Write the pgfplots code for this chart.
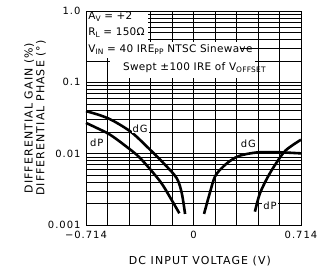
\documentclass[border=0pt]{standalone}
\usepackage{fontspec}
\setmainfont{DejaVu Sans}[LetterSpace=10]
\newfontfamily\boxfont{DejaVu Sans}[LetterSpace=3]
\usepackage{pgfplots}
\pgfplotsset{compat=1.18}
\newcommand\sub[1]{\raisebox{-0.35ex}{\fontsize{7.5}{8}\selectfont #1}}
\begin{document}
\begin{tikzpicture}
\useasboundingbox (0,0) rectangle (319bp,279bp);
\begin{axis}[
  at={(86bp,54bp)}, anchor=south west,
  width=215bp, height=214bp, scale only axis,
  ymode=log, ymin=0.001, ymax=1, xmin=-0.714, xmax=0.714,
  ytick={0.001,0.01,0.1,1}, yticklabels={0.001,0.01,0.1,1.0},
  minor ytick={0.002,0.003,0.004,0.005,0.006,0.007,0.008,0.009,
               0.02,0.03,0.04,0.05,0.06,0.07,0.08,0.09,
               0.2,0.3,0.4,0.5,0.6,0.7,0.8,0.9},
  xtick={-0.714,0,0.714}, xticklabels={−0.714,0,0.714},
  minor xtick={-0.5712,-0.4284,-0.2856,-0.1428,0.1428,0.2856,0.4284,0.5712},
  grid=both,
  major grid style={black, line width=0.5pt},
  minor grid style={black, line width=0.45pt},
  axis line style={line width=1pt},
  major tick length=0pt, minor tick length=0pt,
  /pgf/number format/assume math mode=true,
  ticklabel style={font=\fontsize{10}{12}\selectfont},
  yticklabel style={xshift=-2bp},
  xticklabel style={yshift=-3bp},
  xlabel={DC INPUT VOLTAGE (V)},
  xlabel style={font=\fontsize{11}{13}\selectfont, at={(rel axis cs:0.53,-0.168)}, anchor=center},
  ylabel={DIFFERENTIAL GAIN (\%)\\DIFFERENTIAL PHASE (°)},
  ylabel style={font=\fontsize{11}{12}\selectfont, align=center, at={(rel axis cs:-0.237,0.5)}, anchor=center},
  clip=false,
]
% curves
\addplot[black, line width=2.6pt, smooth] coordinates {
  (-0.714,0.0395) (-0.62,0.0345) (-0.535,0.029) (-0.41,0.0198) (-0.289,0.0114)
  (-0.2,0.0074) (-0.112,0.00455) (-0.078,0.0028) (-0.056,0.00143)};
\addplot[black, line width=2.6pt, smooth] coordinates {
  (-0.714,0.027) (-0.64,0.0228) (-0.555,0.0185) (-0.455,0.013) (-0.355,0.0087)
  (-0.222,0.0041) (-0.156,0.00245) (-0.094,0.00146)};
\addplot[black, line width=2.6pt, smooth] coordinates {
  (0.070,0.00143) (0.105,0.00265) (0.143,0.0048) (0.198,0.0066) (0.25,0.0081)
  (0.309,0.0094) (0.42,0.0104) (0.55,0.0105) (0.714,0.0101)};
\addplot[black, line width=2.6pt, smooth] coordinates {
  (0.408,0.00154) (0.442,0.0028) (0.508,0.00535) (0.596,0.0102) (0.65,0.0128) (0.714,0.0157)};
% curve labels
\node[fill=white, inner sep=1pt, font=\fontsize{10}{12}\selectfont] at (axis cs:-0.355,0.0225) {dG};
\node[fill=white, inner sep=1pt, font=\fontsize{10}{12}\selectfont] at (axis cs:-0.643,0.014) {dP};
\node[fill=white, inner sep=1pt, font=\fontsize{10}{12}\selectfont] at (axis cs:0.364,0.0138) {dG};
\node[fill=white, inner sep=1pt, font=\fontsize{10}{12}\selectfont] at (axis cs:0.508,0.00185) {dP};
% annotation box
\fill[white] (rel axis cs:0.005,0.995) rectangle (rel axis cs:0.288,0.855);
\fill[white] (rel axis cs:0.005,0.855) rectangle (rel axis cs:0.716,0.780);
\fill[white] (rel axis cs:0.112,0.781) rectangle (rel axis cs:0.786,0.687);
\node[anchor=west, inner sep=0pt, font=\boxfont\fontsize{10.5}{12}\selectfont] at (rel axis cs:0.01,0.972) {A\sub{V} = +2};
\node[anchor=west, inner sep=0pt, font=\boxfont\fontsize{10.5}{12}\selectfont] at (rel axis cs:0.01,0.897) {R\sub{L} = 150Ω};
\node[anchor=west, inner sep=0pt, font=\boxfont\fontsize{10.5}{12}\selectfont] at (rel axis cs:0.01,0.818) {V\sub{IN} = 40 IRE\sub{PP} NTSC Sinewave};
\node[anchor=west, inner sep=0pt, font=\boxfont\fontsize{10.5}{12}\selectfont] at (rel axis cs:0.172,0.734) {Swept ±100 IRE of V\sub{OFFSET}};
\end{axis}
\end{tikzpicture}
\end{document}
